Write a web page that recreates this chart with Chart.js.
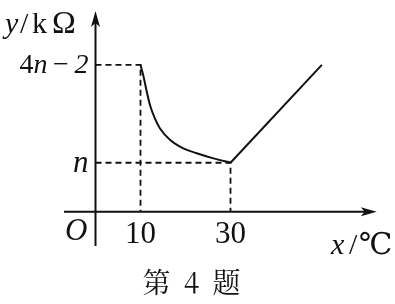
<!DOCTYPE html>
<html>
<head>
<meta charset="utf-8">
<script src="https://cdn.jsdelivr.net/npm/chart.js@4/dist/chart.umd.min.js"></script>
<style>
  html, body { margin: 0; padding: 0; background: #fff; }
  #wrap { width: 395px; height: 304px; }
</style>
</head>
<body>
<div id="wrap"><canvas id="graph"></canvas></div>
<script>
// curve from (10, 4n-2) down to (30, n), here n = 2
var curveX = [10, 10.6, 11.4, 12.1, 13.2, 14.3, 16.6, 19.5, 22.5, 26.2, 30];
var curveY = [6, 5.58, 4.9, 4.36, 3.81, 3.41, 2.93, 2.59, 2.39, 2.18, 2];
// straight part after 30
var lineX = [30, 50.3];
var lineY = [2, 6];
// tick marks and labels (odd parts are italic)
var xTicks = [10, 30];
var xTickLabels = ['10', '30'];
var yTicks = [6, 2];
var yTickLabels = [['4', 'n', '\u2009−\u2009', '2'], ['', 'n']];
var yTickSizes = [28, 31];

function pts(xs, ys) {
    return xs.map(function (x, i) { return { x: x, y: ys[i] }; });
}

var SERIF = '"Liberation Serif", "DejaVu Serif", serif';

// draws a label made of parts, odd parts italic
function drawParts(ctx, parts, x, y, size, align) {
    var widths = parts.map(function (p, i) {
        ctx.font = (i % 2 ? 'italic ' : '') + size + 'px ' + SERIF;
        return ctx.measureText(p).width;
    });
    var total = widths.reduce(function (a, b) { return a + b; }, 0);
    var cx = align === 'right' ? x - total : (align === 'center' ? x - total / 2 : x);
    ctx.textAlign = 'left';
    parts.forEach(function (p, i) {
        ctx.font = (i % 2 ? 'italic ' : '') + size + 'px ' + SERIF;
        ctx.fillText(p, cx, y);
        cx += widths[i];
    });
}

var axesPlugin = {
    id: 'axesPlugin',
    afterDatasetsDraw: function (chart) {
        var ctx = chart.ctx;
        var xs = chart.scales.x, ys = chart.scales.y;
        var ox = xs.getPixelForValue(0), oy = ys.getPixelForValue(0);
        var area = chart.chartArea;
        var xEnd = xs.getPixelForValue(62.5), yEnd = ys.getPixelForValue(8.2);
        ctx.save();
        ctx.strokeStyle = '#111';
        ctx.fillStyle = '#111';
        ctx.lineWidth = 2;
        ctx.beginPath();
        ctx.moveTo(area.left, oy); ctx.lineTo(xEnd - 6, oy);
        ctx.moveTo(ox, area.bottom); ctx.lineTo(ox, yEnd + 6);
        ctx.stroke();
        // arrow heads
        ctx.beginPath();
        ctx.moveTo(xEnd, oy); ctx.lineTo(xEnd - 16, oy - 4.5); ctx.lineTo(xEnd - 12, oy); ctx.lineTo(xEnd - 16, oy + 4.5);
        ctx.closePath(); ctx.fill();
        ctx.beginPath();
        ctx.moveTo(ox, yEnd); ctx.lineTo(ox - 4.5, yEnd + 16); ctx.lineTo(ox, yEnd + 12); ctx.lineTo(ox + 4.5, yEnd + 16);
        ctx.closePath(); ctx.fill();

        ctx.textBaseline = 'middle';
        xTicks.forEach(function (v, i) {
            ctx.font = '31px ' + SERIF;
            ctx.textAlign = 'center';
            ctx.fillText(xTickLabels[i], xs.getPixelForValue(v), oy + 23);
        });
        yTicks.forEach(function (v, i) {
            drawParts(ctx, yTickLabels[i], ox - 7, ys.getPixelForValue(v) + 1, yTickSizes[i], 'right');
        });
        drawParts(ctx, ['', 'O'], ox - 8, oy + 20, 31, 'right');

        // axis titles
        ctx.textBaseline = 'alphabetic';
        ctx.textAlign = 'left';
        ctx.font = 'italic 30px ' + SERIF;
        ctx.fillText('y', 5, 33);
        ctx.font = '30px ' + SERIF;
        ctx.fillText('/', 20, 33);
        ctx.fillText('k', 32, 33);
        ctx.font = '32px ' + SERIF;
        ctx.fillText('Ω', 52, 33);

        ctx.font = 'italic 30px ' + SERIF;
        ctx.fillText('x', 331, 254);
        ctx.font = '30px ' + SERIF;
        ctx.fillText('/', 349, 254);
        ctx.fillText('℃', 359, 254);

        ctx.font = '28px "Noto Serif CJK SC", "Noto Sans CJK SC", sans-serif';
        ctx.textAlign = 'center';
        ctx.textBaseline = 'middle';
        ctx.letterSpacing = '3px';
        ctx.fillText('第 4 题', 193, 282);
        ctx.restore();
    }
};

var solid = { borderColor: '#111', borderWidth: 2, pointRadius: 0, showLine: true, fill: false };
var dashed = { borderColor: '#111', borderWidth: 1.8, borderDash: [6, 4], pointRadius: 0, showLine: true, fill: false, tension: 0 };

new Chart(document.getElementById('graph'), {
    type: 'scatter',
    data: {
        datasets: [
            Object.assign({ data: [{ x: 0, y: yTicks[0] }, { x: xTicks[0], y: yTicks[0] }, { x: xTicks[0], y: 0 }] }, dashed),
            Object.assign({ data: [{ x: 0, y: yTicks[1] }, { x: xTicks[1], y: yTicks[1] }, { x: xTicks[1], y: 0 }] }, dashed),
            Object.assign({ data: pts(curveX, curveY), cubicInterpolationMode: 'monotone' }, solid),
            Object.assign({ data: pts(lineX, lineY), tension: 0 }, solid)
        ]
    },
    options: {
        responsive: true,
        maintainAspectRatio: false,
        animation: false,
        layout: { padding: { left: 64, right: 16, top: 11, bottom: 58 } },
        plugins: { legend: { display: false }, tooltip: { enabled: false } },
        scales: {
            x: { type: 'linear', min: -7, max: 63, display: false },
            y: { type: 'linear', min: -1.4, max: 8.2, display: false }
        }
    },
    plugins: [axesPlugin]
});
</script>
</body>
</html>
